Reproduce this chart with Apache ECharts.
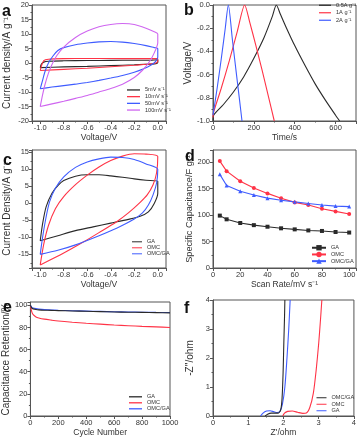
<!DOCTYPE html>
<html>
<head>
<meta charset="utf-8">
<script src="https://cdn.jsdelivr.net/npm/echarts@6/dist/echarts.min.js"></script>
<style>
  html, body { margin: 0; padding: 0; background: #fff; }
  #chart { width: 359px; height: 440px; }
</style>
</head>
<body>
<div id="chart"></div>
<script>
// ---- panel a: CV at different scan rates (voltage, current density) ----
const cv5 = [[-1.0,-1.6],[-0.99,-0.4],[-0.97,0.3],[-0.93,0.6],[-0.8,0.75],[-0.6,0.85],[-0.4,0.9],[-0.2,0.95],[-0.05,1.0],[0,1.1],[0,0.2],[-0.03,-0.3],[-0.2,-0.6],[-0.4,-0.9],[-0.6,-1.15],[-0.8,-1.35],[-1.0,-1.6]]
const cv10 = [[-1.0,-2.6],[-0.99,-1],[-0.97,0.8],[-0.93,1.3],[-0.8,1.5],[-0.6,1.55],[-0.4,1.55],[-0.2,1.5],[-0.05,1.5],[0,1.5],[0,0.5],[-0.03,-0.2],[-0.2,-0.8],[-0.4,-1.3],[-0.6,-1.8],[-0.8,-2.2],[-1.0,-2.6]]
const cv50 = [[-1,-8.9],[-0.98,-6],[-0.96,-3],[-0.93,0],[-0.89,2.5],[-0.85,4.3],[-0.8,5.3],[-0.7,6.3],[-0.6,6.9],[-0.5,7.3],[-0.4,7.4],[-0.3,7.2],[-0.2,6.7],[-0.1,6.0],[-0.03,5.3],[0,5],[0,2],[-0.02,0.5],[-0.06,-0.8],[-0.12,-2],[-0.2,-3.2],[-0.3,-4.3],[-0.4,-5.2],[-0.5,-6],[-0.6,-6.7],[-0.7,-7.3],[-0.8,-7.8],[-0.9,-8.3],[-1,-8.9]]
const cv100 = [[-1,-15],[-0.98,-11],[-0.96,-7.5],[-0.93,-3.5],[-0.9,-0.5],[-0.86,2.5],[-0.8,5.5],[-0.7,8.8],[-0.6,11],[-0.5,12.5],[-0.4,13.3],[-0.3,13.6],[-0.2,13.3],[-0.1,12],[-0.03,10.8],[0,10],[0,7],[-0.03,3.5],[-0.07,0.5],[-0.13,-2.5],[-0.2,-5],[-0.3,-7.3],[-0.4,-8.8],[-0.5,-10],[-0.6,-11.2],[-0.7,-12.2],[-0.8,-13.2],[-0.9,-14.1],[-1,-15]]

// ---- panel b: charge/discharge (time, voltage) ----
const gcd05 = [[0,-1],[3,-0.95],[50,-0.86],[100,-0.75],[150,-0.62],[200,-0.46],[250,-0.28],[290,-0.1],[310,0],[330,-0.08],[360,-0.2],[400,-0.35],[450,-0.52],[500,-0.68],[550,-0.82],[600,-0.95],[620,-1]]
const gcd1 = [[0,-0.97],[2,-0.93],[40,-0.72],[80,-0.48],[120,-0.22],[155,0],[180,-0.15],[210,-0.35],[240,-0.56],[270,-0.78],[300,-1]]
const gcd2 = [[0,-0.95],[20,-0.72],[40,-0.47],[60,-0.2],[75,0],[95,-0.3],[115,-0.6],[130,-0.82],[142,-1]]

// ---- panel c: CV of the three materials ----
const cvGA = [[-1,-11],[-0.98,-6],[-0.95,-1],[-0.9,3],[-0.85,5.2],[-0.8,6.7],[-0.7,8],[-0.6,8.4],[-0.5,8.4],[-0.4,8.1],[-0.3,7.7],[-0.2,7.2],[-0.1,6.8],[0,6.5],[0,3],[-0.03,0],[-0.08,-2.5],[-0.15,-3.8],[-0.25,-4.7],[-0.4,-5.8],[-0.55,-6.9],[-0.7,-8],[-0.85,-9.5],[-1,-11]]
const cvOMC = [[-1,-18.1],[-0.97,-12],[-0.93,-6.5],[-0.87,-1.5],[-0.8,2],[-0.7,5.5],[-0.6,8.3],[-0.5,10.7],[-0.4,12.6],[-0.3,13.9],[-0.2,14.6],[-0.1,14.5],[0,13.8],[-0.01,9],[-0.04,5.5],[-0.09,2.5],[-0.15,0.3],[-0.25,-2.8],[-0.35,-5.4],[-0.5,-8.6],[-0.63,-11.3],[-0.8,-14.6],[-1,-18.1]]
const cvOG = [[-1,-15],[-0.98,-10],[-0.95,-4],[-0.92,0.5],[-0.87,4.5],[-0.8,7.8],[-0.7,10.6],[-0.6,12.2],[-0.5,13.1],[-0.4,13.6],[-0.3,13.5],[-0.2,12.9],[-0.1,11.6],[0,10],[-0.01,6],[-0.04,2.5],[-0.08,-0.5],[-0.13,-2.8],[-0.2,-4.6],[-0.35,-7.3],[-0.5,-9.5],[-0.7,-12.2],[-0.85,-13.8],[-1,-15]]

// ---- panel d: specific capacitance vs scan rate ----
const scanRates = [5,10,20,30,40,50,60,70,80,90,100]
const capGA = [99,92,85,81,78,75,73,71,70,68,67]
const capOMC = [202,183,164,151,141,132,124,119,112,107,102]
const capOG = [177,156,145,138,132,128,125,122,119,117,116]

// ---- panel e: capacitance retention vs cycle ----
const cycles = [0,10,20,40,60,100,150,200,300,400,500,600,700,800,900,1000]
const retGA = [100,97.5,96.8,96.2,95.9,95.6,95.4,95.2,94.9,94.6,94.3,94.0,93.8,93.6,93.4,93.2]
const retOMC = [100,94,91.5,89.5,88.6,87.5,86.6,85.8,84.7,83.8,83.0,82.2,81.6,81.0,80.5,80.0]
const retOG = [100,98.2,97.6,97,96.6,96.1,95.8,95.5,95.1,94.8,94.5,94.2,94,93.8,93.6,93.5]

// ---- panel f: Nyquist (Z', -Z'') ----
const nyOG = [[1.48,0],[1.55,0.06],[1.65,0.1],[1.75,0.1],[1.85,0.1],[1.92,0.2],[1.96,0.6],[1.99,1.5],[2.01,2.5],[2.03,3.4],[2.04,4]]
const nyGA = [[1.35,0],[1.42,0.1],[1.52,0.17],[1.62,0.18],[1.72,0.15],[1.82,0.12],[1.9,0.16],[1.97,0.4],[2.04,1],[2.1,2],[2.15,3],[2.19,4]]
const nyOMC = [[1.98,0],[2.03,0.1],[2.12,0.16],[2.25,0.17],[2.4,0.13],[2.55,0.09],[2.65,0.1],[2.75,0.3],[2.85,0.8],[2.93,1.6],[3.0,2.5],[3.05,3.3],[3.09,4]]

const BLACK = '#2a2a2a', RED = '#ff3346', BLUE = '#3f5cff', MAG = '#cf66f0'
const FONT = "'Liberation Sans', Arial, sans-serif"
const AXC = '#555'
const LINE_ICON = 'path://M0,0H20V2H0Z'

const chart = echarts.init(document.getElementById('chart'), null, { renderer: 'canvas' })

// box positions of the six panels
const grids = [
  { left: 32, top: 5, width: 134, height: 116 },
  { left: 213, top: 5, width: 143, height: 116 },
  { left: 32, top: 150, width: 134, height: 118 },
  { left: 213, top: 150, width: 143, height: 118 },
  { left: 28, top: 302, width: 142, height: 114 },
  { left: 213, top: 300, width: 143, height: 116 }
].map(g => Object.assign({ show: true, borderColor: AXC, borderWidth: 1 }, g))

const onStep = (step, digits) => v => {
  const k = v / step
  return Math.abs(k - Math.round(k)) < 1e-6 ? v.toFixed(digits) : ''
}

function axis(gi, min, max, name, gap, fmt, extra) {
  return Object.assign({
    gridIndex: gi, type: 'value', min, max,
    name, nameLocation: 'middle', nameGap: gap,
    nameTextStyle: { fontSize: 8.5, color: '#333', fontFamily: FONT },
    axisLine: { show: true, onZero: false, lineStyle: { color: AXC, width: 1 } },
    axisTick: { show: true, length: 3, lineStyle: { color: AXC } },
    minorTick: { show: true, splitNumber: 2, length: 1.5, lineStyle: { color: AXC } },
    axisLabel: { fontSize: 7.5, color: '#333', margin: 3, fontFamily: FONT, formatter: fmt,
      showMinLabel: true, showMaxLabel: true },
    splitLine: { show: false }
  }, extra || {})
}
function yaxis(gi, min, max, name, gap, fmt, extra, size) {
  const a = axis(gi, min, max, name, gap, fmt, extra)
  a.nameTextStyle = { fontSize: size || 10, color: '#333', fontFamily: FONT }
  return a
}

const xAxis = [
  axis(0, -1.07, 0.07, 'Voltage/V', 11, onStep(0.2, 1)),
  axis(1, 0, 700, 'Time/s', 11, onStep(200, 0), { interval: 200 }),
  axis(2, -1.07, 0.07, 'Voltage/V', 10, onStep(0.2, 1)),
  axis(3, 0, 105, 'Scan Rate/mV s\u207B\u00B9', 10, onStep(20, 0), { interval: 20 }),
  axis(4, 0, 1000, 'Cycle Number', 12, onStep(200, 0), { interval: 200 }),
  axis(5, 0, 4, 'Z\'/ohm', 12, onStep(1, 0), { interval: 1 })
]
const yAxis = [
  yaxis(0, -20, 20, 'Current density/A g\u207B\u00B9', 20, onStep(5, 0), { interval: 5 }),
  yaxis(1, -1, 0, 'Voltage/V', 18, onStep(0.2, 1), { interval: 0.2 }),
  yaxis(2, -19, 15.7, 'Current Density/A g\u207B\u00B9', 20, onStep(5, 0)),
  yaxis(3, 0, 223, 'Specific Capacitance/F g\u207B\u00B9', 19, onStep(50, 0), { interval: 50 }, 9.2),
  yaxis(4, 0, 103, 'Capacitance Retention/%', 17, onStep(20, 0), { interval: 20 }),
  yaxis(5, 0, 4, '-Z\'\'/ohm', 18, onStep(1, 0), { interval: 1 })
]

function line(gi, name, data, color, extra) {
  return Object.assign({
    type: 'line', name, data, xAxisIndex: gi, yAxisIndex: gi,
    symbol: 'none', smooth: 0.25, clip: true,
    lineStyle: { color, width: 1.1 }, itemStyle: { color }
  }, extra || {})
}
const zip = (xs, ys) => xs.map((x, i) => [x, ys[i]])
const marked = (sym) => ({ symbol: sym, symbolSize: 4, smooth: false })

const series = [
  line(0, 'a:5mV s\u207B\u00B9', cv5, BLACK),
  line(0, 'a:10mV s\u207B\u00B9', cv10, RED),
  line(0, 'a:50mV s\u207B\u00B9', cv50, BLUE),
  line(0, 'a:100mV s\u207B\u00B9', cv100, MAG),
  line(1, 'b:0.5A g\u207B\u00B9', gcd05, BLACK),
  line(1, 'b:1A g\u207B\u00B9', gcd1, RED),
  line(1, 'b:2A g\u207B\u00B9', gcd2, BLUE),
  line(2, 'c:GA', cvGA, BLACK),
  line(2, 'c:OMC', cvOMC, RED),
  line(2, 'c:OMC/GA', cvOG, BLUE),
  line(3, 'd:GA', zip(scanRates, capGA), BLACK, marked('rect')),
  line(3, 'd:OMC', zip(scanRates, capOMC), RED, marked('circle')),
  line(3, 'd:OMC/GA', zip(scanRates, capOG), BLUE, marked('triangle')),
  line(4, 'e:OMC', zip(cycles, retOMC), RED),
  line(4, 'e:OMC/GA', zip(cycles, retOG), BLUE),
  line(4, 'e:GA', zip(cycles, retGA), BLACK),
  line(5, 'f:OMC', nyOMC, RED),
  line(5, 'f:GA', nyGA, BLUE),
  line(5, 'f:OMC/GA', nyOG, BLACK)
]

function legend(names, left, top, w, pitch, gap, icon) {
  const leg = {
    data: names, left, top, orient: 'vertical', padding: 0,
    itemWidth: w, itemHeight: pitch, itemGap: 0, itemTextGap: gap,
    selectedMode: false,
    formatter: n => n.slice(2),
    textStyle: { fontSize: 5.6, lineHeight: pitch, color: '#333', fontFamily: FONT }
  }
  if (icon) leg.icon = icon
  return leg
}

const legends = [
  legend(['a:5mV s\u207B\u00B9', 'a:10mV s\u207B\u00B9', 'a:50mV s\u207B\u00B9', 'a:100mV s\u207B\u00B9'], 127, 86.6, 13, 6.7, 1.5, LINE_ICON),
  legend(['b:0.5A g\u207B\u00B9', 'b:1A g\u207B\u00B9', 'b:2A g\u207B\u00B9'], 319, 1.5, 12, 7.5, 1.5, LINE_ICON),
  legend(['c:GA', 'c:OMC', 'c:OMC/GA'], 132, 238.8, 10, 5.8, 1.5, LINE_ICON),
  legend(['d:GA', 'd:OMC', 'd:OMC/GA'], 311, 244.4, 14, 6.7, 1.5),
  legend(['e:GA', 'e:OMC', 'e:OMC/GA'], 129, 393.8, 13, 5.8, 1.5, LINE_ICON),
  legend(['f:OMC/GA', 'f:OMC', 'f:GA'], 316.5, 394.5, 10, 6.5, 1.5, LINE_ICON)
]

const letters = [['a', 2, 4], ['b', 184, 3], ['c', 3, 153], ['d', 185, 149], ['e', 3, 300], ['f', 184, 301]]
  .map(([t, left, top]) => ({
    text: t, left, top, padding: 0,
    textStyle: { fontSize: 16, fontWeight: 'bold', color: '#111', fontFamily: FONT }
  }))

chart.setOption({
  animation: false,
  backgroundColor: '#fff',
  title: letters,
  grid: grids,
  xAxis,
  yAxis,
  legend: legends,
  series
})
</script>
</body>
</html>
